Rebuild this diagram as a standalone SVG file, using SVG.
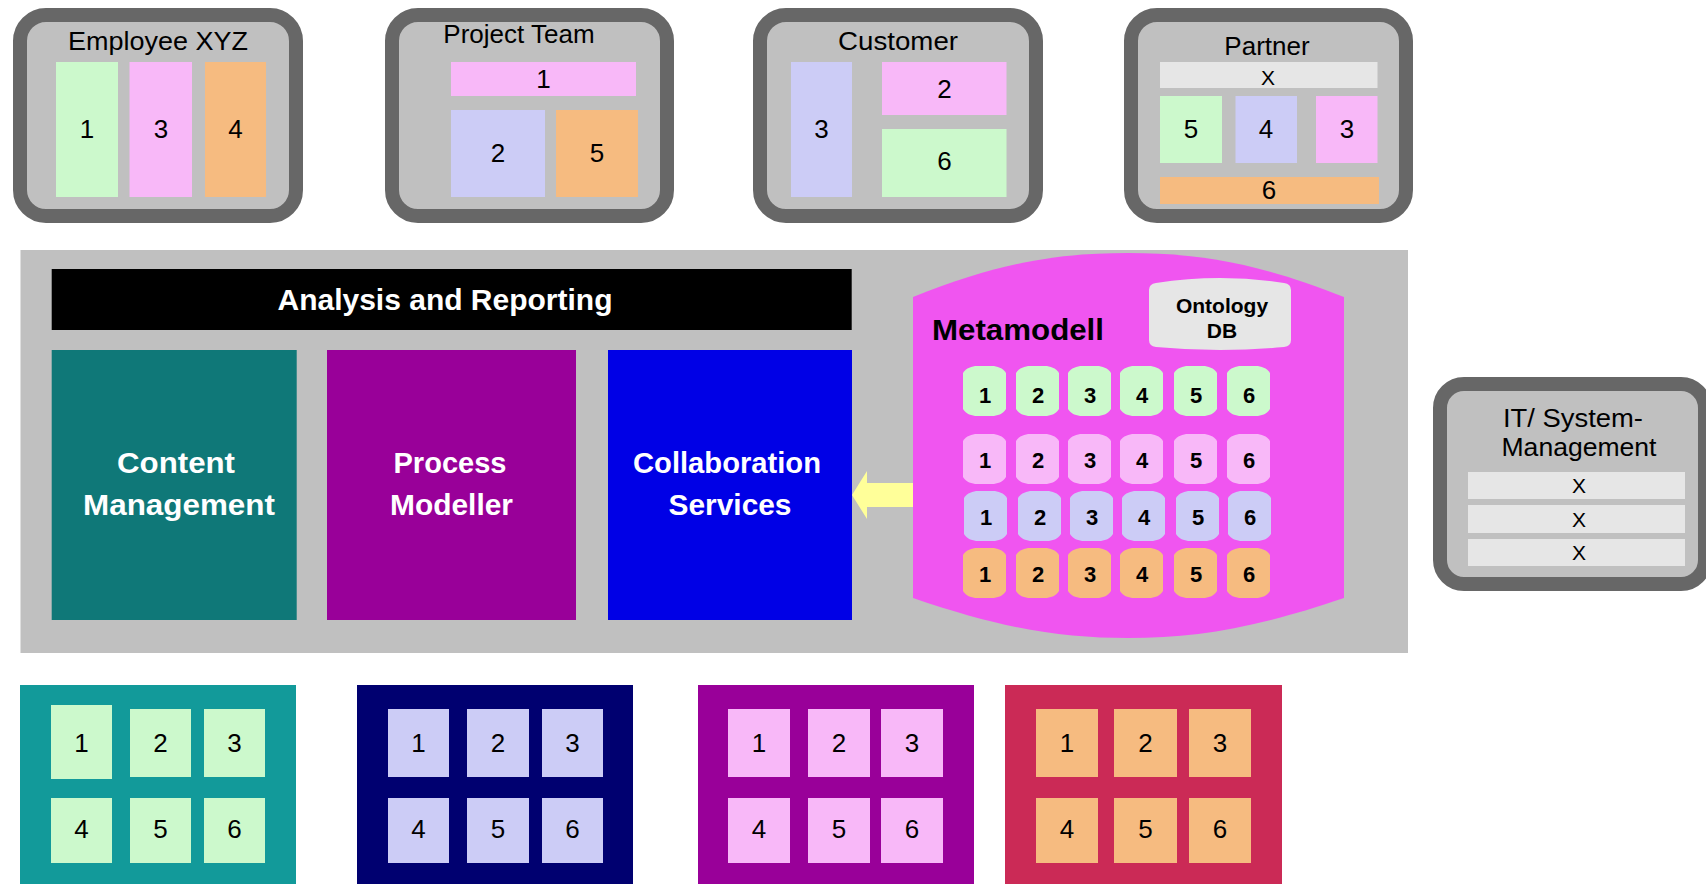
<svg xmlns="http://www.w3.org/2000/svg" xmlns:xlink="http://www.w3.org/1999/xlink" width="1706" height="884" viewBox="0 0 1706 884">
<style>
.box{fill:#c0c0c0;stroke:#676767;stroke-width:14}
.t{font-family:"Liberation Sans",Arial,sans-serif;font-size:26px;fill:#000;text-anchor:middle}
.x{font-family:"Liberation Sans",Arial,sans-serif;font-size:21px;fill:#000;text-anchor:middle}
.w{font-family:"Liberation Sans",Arial,sans-serif;font-size:29px;font-weight:bold;fill:#fff;text-anchor:middle}
.m{font-family:"Liberation Sans",Arial,sans-serif;font-size:22px;font-weight:bold;fill:#000;text-anchor:middle}
.g{fill:#ccf9cc}.p{fill:#f8b8f8}.l{fill:#ccccf6}.o{fill:#f6bb80}.e{fill:#e6e6e6}
</style>
<defs>
<path id="barrel" d="M0,7 C3,2 9,0 14,0 L29,0 C34,0 40,2 43,7 L43,43 C40,48 34,50 29,50 L14,50 C9,50 3,48 0,43 Z"/>
</defs>
<rect width="1706" height="884" fill="#fff"/>

<g id="employee">
<rect class="box" x="20" y="15" width="276" height="201" rx="26"/>
<text class="t" x="158" y="50" textLength="180" lengthAdjust="spacingAndGlyphs">Employee XYZ</text>
<rect class="g" x="56" y="62" width="62" height="135"/>
<rect class="p" x="129.5" y="62" width="62.5" height="135"/>
<rect class="o" x="205" y="62" width="61" height="135"/>
<text class="t" x="87" y="138">1</text>
<text class="t" x="161" y="138">3</text>
<text class="t" x="235.5" y="138">4</text>
</g>

<g id="project-team">
<rect class="box" x="392" y="15" width="275" height="201" rx="26"/>
<text class="t" x="519" y="43">Project Team</text>
<rect class="p" x="451" y="62" width="185" height="34"/>
<rect class="l" x="451" y="110" width="94" height="87"/>
<rect class="o" x="556" y="110" width="82" height="87"/>
<text class="t" x="543.5" y="88">1</text>
<text class="t" x="498" y="162">2</text>
<text class="t" x="597" y="162">5</text>
</g>

<g id="customer">
<rect class="box" x="760" y="15" width="276" height="201" rx="26"/>
<text class="t" x="898" y="50" textLength="120" lengthAdjust="spacingAndGlyphs">Customer</text>
<rect class="l" x="791" y="62" width="61" height="135"/>
<rect class="p" x="882" y="62" width="124.5" height="53"/>
<rect class="g" x="882" y="129" width="124.5" height="68"/>
<text class="t" x="821.5" y="138">3</text>
<text class="t" x="944.5" y="98">2</text>
<text class="t" x="944.5" y="170">6</text>
</g>

<g id="partner">
<rect class="box" x="1131" y="15" width="275" height="201" rx="26"/>
<text class="t" x="1267" y="55">Partner</text>
<rect class="e" x="1160" y="62" width="217.5" height="26"/>
<text class="x" x="1268" y="85">X</text>
<rect class="g" x="1160" y="96" width="62" height="67"/>
<rect class="l" x="1235.5" y="96" width="61.5" height="67"/>
<rect class="p" x="1316" y="96" width="61.5" height="67"/>
<rect class="o" x="1160" y="177" width="219" height="27"/>
<text class="t" x="1191" y="138">5</text>
<text class="t" x="1266" y="138">4</text>
<text class="t" x="1347" y="138">3</text>
<text class="t" x="1269" y="199">6</text>
</g>

<g id="it-system-management">
<rect class="box" x="1440" y="384" width="265" height="200" rx="24"/>
<text class="t" x="1573" y="427" textLength="140" lengthAdjust="spacingAndGlyphs">IT/ System-</text>
<text class="t" x="1579" y="456" textLength="155" lengthAdjust="spacingAndGlyphs">Management</text>
<rect class="e" x="1468" y="472" width="217" height="27"/>
<rect class="e" x="1468" y="505" width="217" height="28"/>
<rect class="e" x="1468" y="539" width="217" height="27"/>
<text class="x" x="1579" y="493">X</text>
<text class="x" x="1579" y="527">X</text>
<text class="x" x="1579" y="560">X</text>
</g>

<g id="platform">
<rect x="20.5" y="250" width="1387.5" height="403" fill="#c0c0c0"/>
</g>

<g id="analysis-reporting">
<rect x="51.7" y="269" width="800" height="61" fill="#000"/>
<text class="w" x="445" y="310" style="font-size:30px">Analysis and Reporting</text>
</g>

<g id="content-management">
<rect x="51.7" y="350" width="245" height="270" fill="#0f7878"/>
<text class="w" x="176" y="473" textLength="118" lengthAdjust="spacingAndGlyphs">Content</text>
<text class="w" x="179" y="515" textLength="192" lengthAdjust="spacingAndGlyphs">Management</text>
</g>

<g id="process-modeller">
<rect x="327" y="350" width="249" height="270" fill="#990099"/>
<text class="w" x="450" y="473" textLength="113" lengthAdjust="spacingAndGlyphs">Process</text>
<text class="w" x="451.5" y="515" textLength="123" lengthAdjust="spacingAndGlyphs">Modeller</text>
</g>

<g id="collaboration-services">
<rect x="608" y="350" width="244" height="270" fill="#0000e6"/>
<text class="w" x="727" y="473" textLength="188" lengthAdjust="spacingAndGlyphs">Collaboration</text>
<text class="w" x="730" y="515" textLength="123" lengthAdjust="spacingAndGlyphs">Services</text>
</g>

<g id="connectors">
<polygon points="852,495 867,471 867,483 918,483 918,507 867,507 867,519" fill="#ffff99"/>
</g>

<g id="metamodell">
<path d="M913,297 C1000,262 1060,253 1128,253 C1196,253 1256,262 1344,297 L1344,598 C1256,628 1196,638 1128,638 C1060,638 1000,628 913,598 Z" fill="#f055f0"/>
<text x="932" y="340" textLength="172" lengthAdjust="spacingAndGlyphs" style="font-family:'Liberation Sans',Arial,sans-serif;font-size:30px;font-weight:bold;fill:#000">Metamodell</text>
<g id="ontology-db">
<path d="M1149,290 Q1149,284 1156,283 Q1220,273 1284,283 Q1291,284 1291,290 L1291,340 Q1291,346 1284,347 Q1220,353 1156,347 Q1149,346 1149,340 Z" fill="#e6e6e6"/>
<text class="m" x="1222" y="313" style="font-size:21px">Ontology</text>
<text class="m" x="1222" y="338" style="font-size:21px">DB</text>
</g>
<g id="meta-row-1" class="g">
<use xlink:href="#barrel" x="963" y="366"/><use xlink:href="#barrel" x="1016" y="366"/><use xlink:href="#barrel" x="1068" y="366"/>
<use xlink:href="#barrel" x="1120" y="366"/><use xlink:href="#barrel" x="1174" y="366"/><use xlink:href="#barrel" x="1227" y="366"/>
</g>
<g id="meta-row-2" class="p">
<use xlink:href="#barrel" x="963" y="434"/><use xlink:href="#barrel" x="1016" y="434"/><use xlink:href="#barrel" x="1068" y="434"/>
<use xlink:href="#barrel" x="1120" y="434"/><use xlink:href="#barrel" x="1174" y="434"/><use xlink:href="#barrel" x="1227" y="434"/>
</g>
<g id="meta-row-3" class="l">
<use xlink:href="#barrel" x="964" y="491"/><use xlink:href="#barrel" x="1018" y="491"/><use xlink:href="#barrel" x="1070" y="491"/>
<use xlink:href="#barrel" x="1122" y="491"/><use xlink:href="#barrel" x="1176" y="491"/><use xlink:href="#barrel" x="1228" y="491"/>
</g>
<g id="meta-row-4" class="o">
<use xlink:href="#barrel" x="963" y="548"/><use xlink:href="#barrel" x="1016" y="548"/><use xlink:href="#barrel" x="1068" y="548"/>
<use xlink:href="#barrel" x="1120" y="548"/><use xlink:href="#barrel" x="1174" y="548"/><use xlink:href="#barrel" x="1227" y="548"/>
</g>
<g id="meta-labels">
<text class="m" x="985" y="403">1</text><text class="m" x="1038" y="403">2</text><text class="m" x="1090" y="403">3</text>
<text class="m" x="1142" y="403">4</text><text class="m" x="1196" y="403">5</text><text class="m" x="1249" y="403">6</text>
<text class="m" x="985" y="468">1</text><text class="m" x="1038" y="468">2</text><text class="m" x="1090" y="468">3</text>
<text class="m" x="1142" y="468">4</text><text class="m" x="1196" y="468">5</text><text class="m" x="1249" y="468">6</text>
<text class="m" x="986" y="525">1</text><text class="m" x="1040" y="525">2</text><text class="m" x="1092" y="525">3</text>
<text class="m" x="1144" y="525">4</text><text class="m" x="1198" y="525">5</text><text class="m" x="1250" y="525">6</text>
<text class="m" x="985" y="582">1</text><text class="m" x="1038" y="582">2</text><text class="m" x="1090" y="582">3</text>
<text class="m" x="1142" y="582">4</text><text class="m" x="1196" y="582">5</text><text class="m" x="1249" y="582">6</text>
</g>
</g>

<g id="store-teal">
<rect x="20" y="685" width="276" height="210" fill="#129a9a"/>
<rect class="g" x="51" y="705" width="61" height="74"/>
<rect class="g" x="130" y="709" width="61" height="68"/>
<rect class="g" x="204" y="709" width="61" height="68"/>
<rect class="g" x="51" y="798" width="61" height="65"/>
<rect class="g" x="130" y="798" width="61" height="65"/>
<rect class="g" x="204" y="798" width="61" height="65"/>
<text class="t" x="81.5" y="752">1</text><text class="t" x="160.5" y="752">2</text><text class="t" x="234.5" y="752">3</text>
<text class="t" x="81.5" y="838">4</text><text class="t" x="160.5" y="838">5</text><text class="t" x="234.5" y="838">6</text>
</g>

<g id="store-navy">
<rect x="357" y="685" width="276" height="210" fill="#000070"/>
<rect class="l" x="388" y="709" width="61" height="68"/>
<rect class="l" x="467" y="709" width="62" height="68"/>
<rect class="l" x="542" y="709" width="61" height="68"/>
<rect class="l" x="388" y="798" width="61" height="65"/>
<rect class="l" x="467" y="798" width="62" height="65"/>
<rect class="l" x="542" y="798" width="61" height="65"/>
<text class="t" x="418.5" y="752">1</text><text class="t" x="498" y="752">2</text><text class="t" x="572.5" y="752">3</text>
<text class="t" x="418.5" y="838">4</text><text class="t" x="498" y="838">5</text><text class="t" x="572.5" y="838">6</text>
</g>

<g id="store-purple">
<rect x="698" y="685" width="276" height="210" fill="#990099"/>
<rect class="p" x="728" y="709" width="62" height="68"/>
<rect class="p" x="808" y="709" width="62" height="68"/>
<rect class="p" x="881" y="709" width="62" height="68"/>
<rect class="p" x="728" y="798" width="62" height="65"/>
<rect class="p" x="808" y="798" width="62" height="65"/>
<rect class="p" x="881" y="798" width="62" height="65"/>
<text class="t" x="759" y="752">1</text><text class="t" x="839" y="752">2</text><text class="t" x="912" y="752">3</text>
<text class="t" x="759" y="838">4</text><text class="t" x="839" y="838">5</text><text class="t" x="912" y="838">6</text>
</g>

<g id="store-crimson">
<rect x="1005" y="685" width="277" height="210" fill="#cb2a56"/>
<rect class="o" x="1036" y="709" width="62" height="68"/>
<rect class="o" x="1114" y="709" width="63" height="68"/>
<rect class="o" x="1189" y="709" width="62" height="68"/>
<rect class="o" x="1036" y="798" width="62" height="65"/>
<rect class="o" x="1114" y="798" width="63" height="65"/>
<rect class="o" x="1189" y="798" width="62" height="65"/>
<text class="t" x="1067" y="752">1</text><text class="t" x="1145.5" y="752">2</text><text class="t" x="1220" y="752">3</text>
<text class="t" x="1067" y="838">4</text><text class="t" x="1145.5" y="838">5</text><text class="t" x="1220" y="838">6</text>
</g>
</svg>
